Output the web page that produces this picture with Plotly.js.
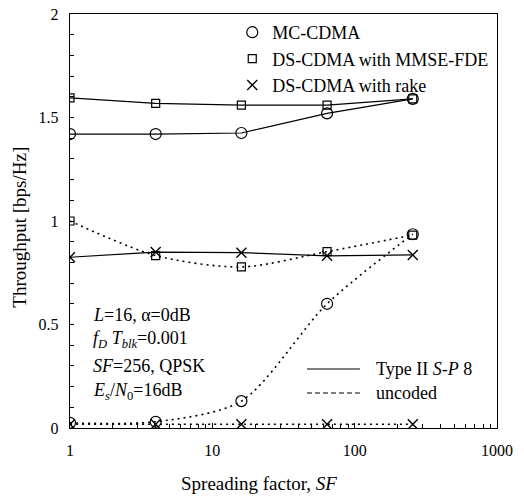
<!DOCTYPE html>
<html>
<head>
<meta charset="utf-8">
<script src="https://cdn.plot.ly/plotly-3.0.1.min.js"></script>
<style>html,body{margin:0;padding:0;background:#fff;}#chart{width:524px;height:496px;}</style>
</head>
<body>
<div id="chart"></div>
<script>
// Data
const sf = [1, 4, 16, 64, 256];
const mcCoded = [1.42, 1.42, 1.425, 1.52, 1.59];
const mmseCoded = [1.595, 1.568, 1.56, 1.56, 1.59];
const rakeCoded = [0.825, 0.85, 0.847, 0.832, 0.836];
const mcUncoded = [0.025, 0.03, 0.13, 0.60, 0.936];
const mmseUncoded = [1.0, 0.833, 0.778, 0.852, 0.932];
const rakeUncoded = [0.018, 0.018, 0.018, 0.018, 0.018];
const seriesNames = ['MC-CDMA', 'DS-CDMA with MMSE-FDE', 'DS-CDMA with rake'];
const xTickVals = [1, 10, 100, 1000];
const xTickText = ['1', '10', '100', '1000'];
const yTickVals = [0, 0.5, 1, 1.5, 2];
const yTickText = ['0', '0.5', '1', '1.5', '2'];

const FONT = 'Liberation Serif';
const circ = {symbol: 'circle-open', size: 11, color: '#000', line: {width: 1.2, color: '#000'}};
const sq = {symbol: 'square-open', size: 8, color: '#000', line: {width: 1.2, color: '#000'}};
const xm = {symbol: 'x-thin-open', size: 10, color: '#000', line: {width: 1.4, color: '#000'}};
const solid = {color: '#000', width: 1.2};
const dotted = {color: '#000', width: 1.6, dash: '2px,4px', shape: 'spline', smoothing: 0.8};

const traces = [
  {x: sf, y: mcUncoded, mode: 'lines+markers', line: dotted, marker: circ, showlegend: false},
  {x: sf, y: mmseUncoded, mode: 'lines+markers', line: dotted, marker: sq, showlegend: false},
  {x: sf, y: rakeUncoded, mode: 'lines+markers', line: dotted, marker: xm, showlegend: false},
  {x: sf, y: rakeCoded, mode: 'lines+markers', line: solid, marker: xm, showlegend: false},
  {x: sf, y: mmseCoded, mode: 'lines+markers', line: solid, marker: sq, showlegend: false},
  {x: sf, y: mcCoded, mode: 'lines+markers', line: solid, marker: circ, showlegend: false},
  {x: [null], y: [null], mode: 'markers', marker: circ, name: seriesNames[0]},
  {x: [null], y: [null], mode: 'markers', marker: sq, name: seriesNames[1]},
  {x: [null], y: [null], mode: 'markers', marker: xm, name: seriesNames[2]}
];

function ann(text, x, y, extra) {
  return Object.assign({text: text, xref: 'paper', yref: 'paper', x: x, y: y, xanchor: 'left', yanchor: 'middle',
          showarrow: false, font: {family: FONT, size: 18, color: '#000'}}, extra || {});
}

const layout = {
  width: 524, height: 496,
  margin: {l: 70, r: 27, t: 14, b: 68},
  paper_bgcolor: '#fff', plot_bgcolor: '#fff',
  font: {family: FONT, color: '#000', size: 16},
  showlegend: true,
  legend: {x: 0.38, y: 1.0, xanchor: 'left', yanchor: 'top', bgcolor: 'rgba(0,0,0,0)',
           borderwidth: 0, font: {family: FONT, size: 18, color: '#000'}, tracegroupgap: 0},
  xaxis: {
    type: 'log', range: [0, 3], tickvals: xTickVals, ticktext: xTickText,
    ticks: 'inside', ticklen: 5, tickcolor: '#000', tickwidth: 1, ticklabelstandoff: 8,
    showgrid: false, zeroline: false, showline: true, linecolor: '#000', linewidth: 1.2, mirror: true,
    tickfont: {family: FONT, size: 16, color: '#000'},
    minor: {ticks: 'inside', ticklen: 4, tickcolor: '#000', tickvals: [2,3,4,5,6,7,8,9,20,30,40,50,60,70,80,90,200,300,400,500,600,700,800,900], showgrid: false}
  },
  yaxis: {
    range: [0, 2], tickvals: yTickVals, ticktext: yTickText,
    ticks: 'inside', ticklen: 4, tickcolor: '#000', ticklabelstandoff: 7,
    showgrid: false, zeroline: false, showline: true, linecolor: '#000', linewidth: 1.2, mirror: true,
    tickfont: {family: FONT, size: 16, color: '#000'},
    minor: {ticks: 'inside', ticklen: 4, tickcolor: '#000', dtick: 0.1, showgrid: false}
  },
  shapes: [
    {type: 'line', xref: 'paper', yref: 'paper', x0: 0.555, x1: 0.679, y0: 0.1425, y1: 0.1425, line: {color: '#000', width: 1.2}},
    {type: 'line', xref: 'paper', yref: 'paper', x0: 0.555, x1: 0.679, y0: 0.0845, y1: 0.0845, line: {color: '#000', width: 1.2, dash: '5px,3px'}}
  ],
  annotations: [
    ann('<i>L</i>=16, α=0dB', 0.05, 0.273),
    ann('<i>f<sub>D</sub></i> <i>T<sub>blk</sub></i>=0.001', 0.05, 0.2126),
    ann('<i>SF</i>=256, QPSK', 0.05, 0.1498),
    ann('<i>E<sub>s</sub></i>/<i>N</i><sub>0</sub>=16dB', 0.05, 0.087),
    ann('Type II <i>S</i>-<i>P</i> 8', 0.712, 0.1425),
    ann('uncoded', 0.712, 0.0845),
    ann('Spreading factor, <i>SF</i>', 0.443, -0.133, {xanchor: 'center', font: {family: FONT, size: 19, color: '#000'}}),
    ann('Throughput [bps/Hz]', -0.117, 0.484, {xanchor: 'center', textangle: -90, font: {family: FONT, size: 19, color: '#000'}})
  ]
};

Plotly.newPlot('chart', traces, layout, {displayModeBar: false, staticPlot: true});
</script>
</body>
</html>
